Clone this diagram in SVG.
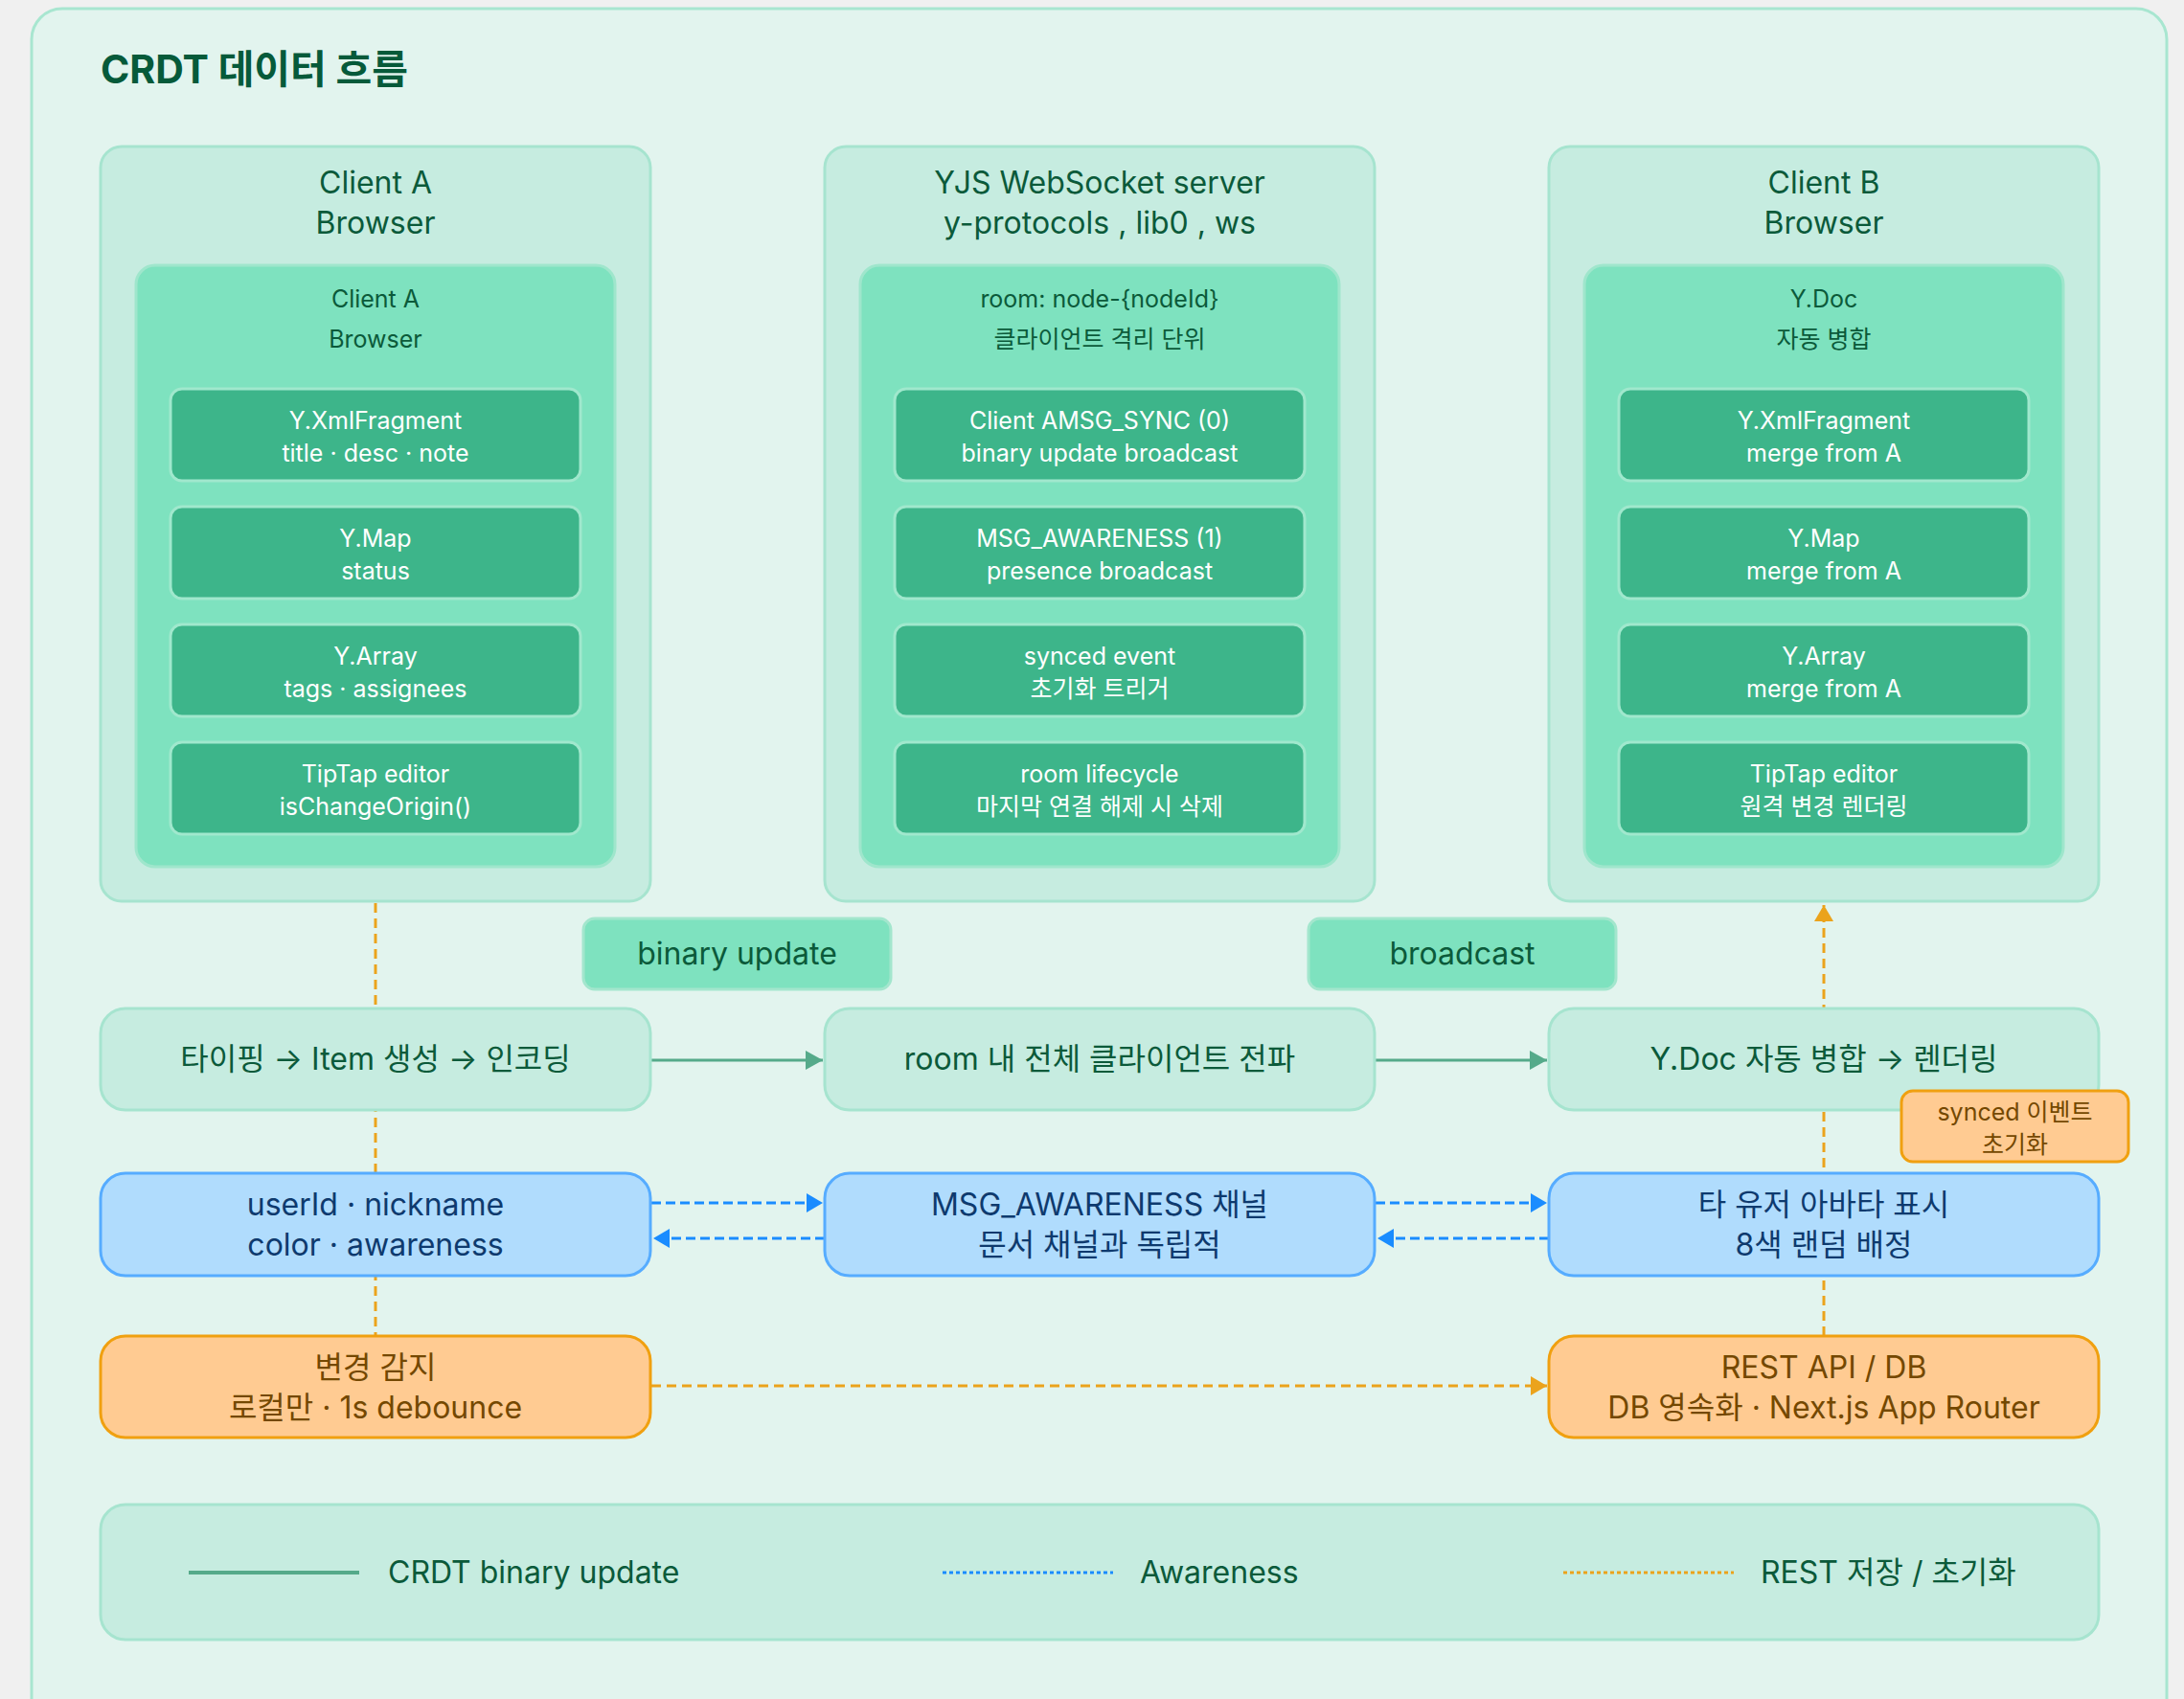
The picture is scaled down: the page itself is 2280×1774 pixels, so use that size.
<svg xmlns="http://www.w3.org/2000/svg" width="2280" height="1774" viewBox="0 0 2280 1774">
<defs>
<style>
text{font-family:"Inter","Noto Sans CJK KR","Noto Sans",sans-serif;text-anchor:middle}
.title{font-size:41px;font-weight:700;fill:#065a3a;text-anchor:start}
.col{fill:#c6ece0;stroke:#a6e4cf;stroke-width:3}
.inner{fill:#7ee2bf;stroke:#9fe6cc;stroke-width:3}
.item{fill:#3db58a;stroke:#a0e8cd;stroke-width:3}
.flow{fill:#c6ece0;stroke:#a6e4cf;stroke-width:3}
.lab{fill:#7ee2bf;stroke:#a3e6cd;stroke-width:3}
.aw{fill:#b0dcfd;stroke:#56acff;stroke-width:3}
.rest{fill:#ffcb92;stroke:#f0a010;stroke-width:3}
.tcol{font-size:32px;fill:#0b5a3a}
.tin{font-size:25px;fill:#0b5a3a}
.titem{font-size:25px;fill:#ffffff}
.tflow{font-size:32px;fill:#0b5a3a}
.taw{font-size:32px;fill:#0e3a6e}
.trest{font-size:32px;fill:#744800}
.tsync{font-size:25px;fill:#744800}
.tleg{font-size:32px;fill:#0b5a3a;text-anchor:start}
.cg{stroke:#55aa8a;stroke-width:3;fill:none}
.cb{stroke:#1a8cff;stroke-width:3;fill:none;stroke-dasharray:10 5}
.co{stroke:#eba31c;stroke-width:3;fill:none;stroke-dasharray:10 6}
</style>
<marker id="ag" markerUnits="userSpaceOnUse" markerWidth="18" markerHeight="20" refX="18" refY="10" orient="auto"><path d="M0,0 L18,10 L0,20 z" fill="#55aa8a"/></marker>
<marker id="ab" markerUnits="userSpaceOnUse" markerWidth="17" markerHeight="20" refX="17" refY="10" orient="auto"><path d="M0,0 L17,10 L0,20 z" fill="#1a8cff"/></marker>
<marker id="ao" markerUnits="userSpaceOnUse" markerWidth="17" markerHeight="20" refX="17" refY="10" orient="auto"><path d="M0,0 L17,10 L0,20 z" fill="#eba31c"/></marker>
</defs>
<rect x="0" y="0" width="2280" height="1774" fill="#f0f0f0"/>
<rect x="33" y="9" width="2229" height="1800" rx="32" fill="#e2f4ee" stroke="#a8e6d0" stroke-width="3"/>
<text class="title" x="105" y="87">CRDT 데이터 흐름</text>

<g id="connectors">
<line class="co" x1="392" y1="943" x2="392" y2="1395"/>
<line class="co" x1="1904" y1="1395" x2="1904" y2="945" marker-end="url(#ao)"/>
<line class="cg" x1="680" y1="1107" x2="859" y2="1107" marker-end="url(#ag)"/>
<line class="cg" x1="1436" y1="1107" x2="1615" y2="1107" marker-end="url(#ag)"/>
<line class="cb" x1="680" y1="1256" x2="859" y2="1256" marker-end="url(#ab)"/>
<line class="cb" x1="861" y1="1293" x2="682" y2="1293" marker-end="url(#ab)"/>
<line class="cb" x1="1436" y1="1256" x2="1615" y2="1256" marker-end="url(#ab)"/>
<line class="cb" x1="1617" y1="1293" x2="1438" y2="1293" marker-end="url(#ab)"/>
<line class="co" x1="680" y1="1447" x2="1615" y2="1447" marker-end="url(#ao)"/>
</g>

<g id="clientA">
<rect class="col" x="105" y="153" width="574" height="788" rx="22"/>
<text class="tcol" x="392" y="202">Client A</text>
<text class="tcol" x="392" y="244">Browser</text>
<rect class="inner" x="142" y="277" width="500" height="628" rx="20"/>
<text class="tin" x="392" y="321">Client A</text>
<text class="tin" x="392" y="363">Browser</text>
<rect class="item" x="178" y="406" width="428" height="96" rx="12"/>
<text class="titem" x="392" y="448">Y.XmlFragment</text>
<text class="titem" x="392" y="482">title · desc · note</text>
<rect class="item" x="178" y="529" width="428" height="96" rx="12"/>
<text class="titem" x="392" y="571">Y.Map</text>
<text class="titem" x="392" y="605">status</text>
<rect class="item" x="178" y="652" width="428" height="96" rx="12"/>
<text class="titem" x="392" y="694">Y.Array</text>
<text class="titem" x="392" y="728">tags · assignees</text>
<rect class="item" x="178" y="775" width="428" height="96" rx="12"/>
<text class="titem" x="392" y="817">TipTap editor</text>
<text class="titem" x="392" y="851">isChangeOrigin()</text>
</g>

<g id="server">
<rect class="col" x="861" y="153" width="574" height="788" rx="22"/>
<text class="tcol" x="1148" y="202">YJS WebSocket server</text>
<text class="tcol" x="1148" y="244">y-protocols , lib0 , ws</text>
<rect class="inner" x="898" y="277" width="500" height="628" rx="20"/>
<text class="tin" x="1148" y="321">room: node-{nodeId}</text>
<text class="tin" x="1148" y="363">클라이언트 격리 단위</text>
<rect class="item" x="934" y="406" width="428" height="96" rx="12"/>
<text class="titem" x="1148" y="448">Client AMSG_SYNC (0)</text>
<text class="titem" x="1148" y="482">binary update broadcast</text>
<rect class="item" x="934" y="529" width="428" height="96" rx="12"/>
<text class="titem" x="1148" y="571">MSG_AWARENESS (1)</text>
<text class="titem" x="1148" y="605">presence broadcast</text>
<rect class="item" x="934" y="652" width="428" height="96" rx="12"/>
<text class="titem" x="1148" y="694">synced event</text>
<text class="titem" x="1148" y="728">초기화 트리거</text>
<rect class="item" x="934" y="775" width="428" height="96" rx="12"/>
<text class="titem" x="1148" y="817">room lifecycle</text>
<text class="titem" x="1148" y="851">마지막 연결 해제 시 삭제</text>
</g>

<g id="clientB">
<rect class="col" x="1617" y="153" width="574" height="788" rx="22"/>
<text class="tcol" x="1904" y="202">Client B</text>
<text class="tcol" x="1904" y="244">Browser</text>
<rect class="inner" x="1654" y="277" width="500" height="628" rx="20"/>
<text class="tin" x="1904" y="321">Y.Doc</text>
<text class="tin" x="1904" y="363">자동 병합</text>
<rect class="item" x="1690" y="406" width="428" height="96" rx="12"/>
<text class="titem" x="1904" y="448">Y.XmlFragment</text>
<text class="titem" x="1904" y="482">merge from A</text>
<rect class="item" x="1690" y="529" width="428" height="96" rx="12"/>
<text class="titem" x="1904" y="571">Y.Map</text>
<text class="titem" x="1904" y="605">merge from A</text>
<rect class="item" x="1690" y="652" width="428" height="96" rx="12"/>
<text class="titem" x="1904" y="694">Y.Array</text>
<text class="titem" x="1904" y="728">merge from A</text>
<rect class="item" x="1690" y="775" width="428" height="96" rx="12"/>
<text class="titem" x="1904" y="817">TipTap editor</text>
<text class="titem" x="1904" y="851">원격 변경 렌더링</text>
</g>

<g id="label-binary">
<rect class="lab" x="609" y="959" width="321" height="74" rx="12"/>
<text class="tflow" x="769.5" y="1007">binary update</text>
</g>
<g id="label-broadcast">
<rect class="lab" x="1366" y="959" width="321" height="74" rx="12"/>
<text class="tflow" x="1526.5" y="1007">broadcast</text>
</g>

<g id="flow-typing">
<rect class="flow" x="105" y="1053" width="574" height="106" rx="26"/>
<text class="tflow" x="392" y="1117">타이핑 → Item 생성 → 인코딩</text>
</g>
<g id="flow-room">
<rect class="flow" x="861" y="1053" width="574" height="106" rx="26"/>
<text class="tflow" x="1148" y="1117">room 내 전체 클라이언트 전파</text>
</g>
<g id="flow-merge">
<rect class="flow" x="1617" y="1053" width="574" height="106" rx="26"/>
<text class="tflow" x="1904" y="1117">Y.Doc 자동 병합 → 렌더링</text>
</g>
<g id="synced-note">
<rect class="rest" x="1985" y="1139" width="237" height="74" rx="12"/>
<text class="tsync" x="2103.5" y="1170">synced 이벤트</text>
<text class="tsync" x="2103.5" y="1204">초기화</text>
</g>

<g id="aw-user">
<rect class="aw" x="105" y="1225" width="574" height="107" rx="26"/>
<text class="taw" x="392" y="1269">userId · nickname</text>
<text class="taw" x="392" y="1311">color · awareness</text>
</g>
<g id="aw-channel">
<rect class="aw" x="861" y="1225" width="574" height="107" rx="26"/>
<text class="taw" x="1148" y="1269">MSG_AWARENESS 채널</text>
<text class="taw" x="1148" y="1311">문서 채널과 독립적</text>
</g>
<g id="aw-avatar">
<rect class="aw" x="1617" y="1225" width="574" height="107" rx="26"/>
<text class="taw" x="1904" y="1269">타 유저 아바타 표시</text>
<text class="taw" x="1904" y="1311">8색 랜덤 배정</text>
</g>

<g id="rest-detect">
<rect class="rest" x="105" y="1395" width="574" height="106" rx="26"/>
<text class="trest" x="392" y="1439">변경 감지</text>
<text class="trest" x="392" y="1481">로컬만 · 1s debounce</text>
</g>
<g id="rest-api">
<rect class="rest" x="1617" y="1395" width="574" height="106" rx="26"/>
<text class="trest" x="1904" y="1439">REST API / DB</text>
<text class="trest" x="1904" y="1481">DB 영속화 · Next.js App Router</text>
</g>

<g id="legend">
<rect class="flow" x="105" y="1571" width="2086" height="141" rx="26"/>
<line x1="197" y1="1642" x2="375" y2="1642" stroke="#55aa8a" stroke-width="4"/>
<text class="tleg" x="405" y="1653">CRDT binary update</text>
<line x1="984" y1="1642" x2="1162" y2="1642" stroke="#1a8cff" stroke-width="3" stroke-dasharray="4 3"/>
<text class="tleg" x="1190" y="1653">Awareness</text>
<line x1="1632" y1="1642" x2="1810" y2="1642" stroke="#eba31c" stroke-width="3" stroke-dasharray="4 3"/>
<text class="tleg" x="1838" y="1653">REST 저장 / 초기화</text>
</g>
</svg>
